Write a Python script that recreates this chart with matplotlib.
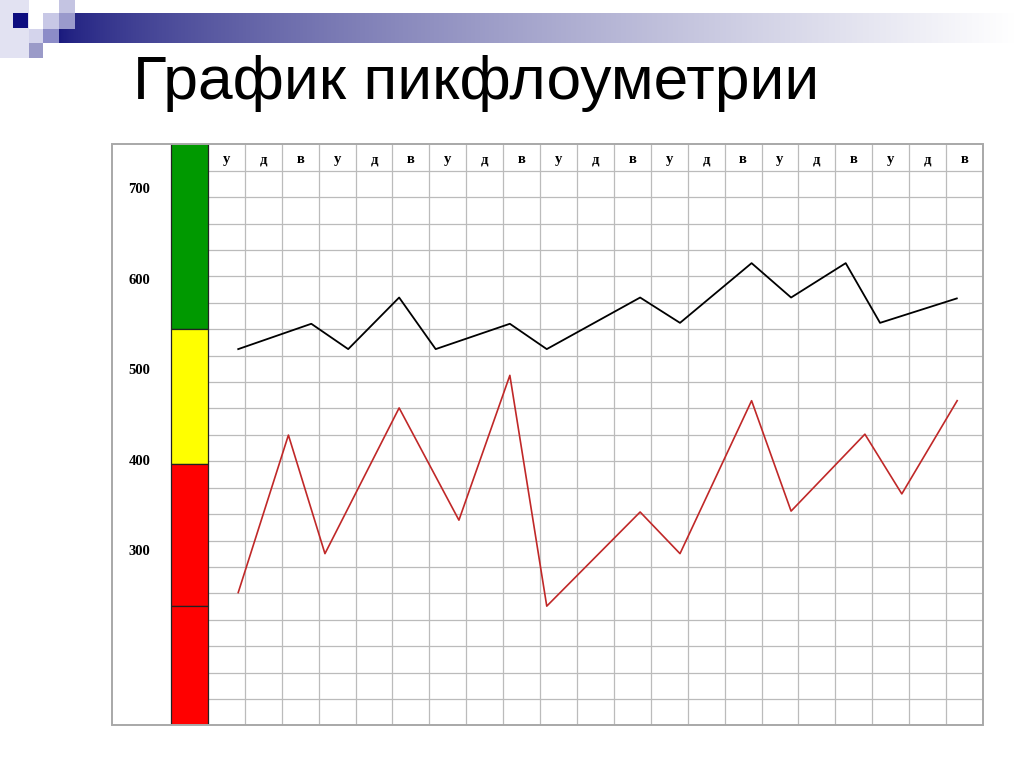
import matplotlib
matplotlib.use('Agg')
import matplotlib.pyplot as plt
import numpy as np
from matplotlib.patches import Rectangle
from matplotlib.colors import to_rgb

# column headers: morning / day / evening for 7 days
day_labels = ['у', 'д', 'в', 'у', 'д', 'в', 'у', 'д', 'в', 'у', 'д', 'в',
              'у', 'д', 'в', 'у', 'д', 'в', 'у', 'д', 'в']
scale_labels = [700, 600, 500, 400, 300]

# zone limits on the left bar (l/min)
zone_bounds = [546, 397, 240]
zone_colors = ['#009900', '#ffff00', '#ff0000', '#ff0000']

# readings, x = column position
black_x = [0.32, 2.30, 3.30, 4.68, 5.67, 7.68, 8.68, 11.21, 12.29, 14.23, 15.30, 16.78, 17.71, 19.79]
black_v = [524, 552, 524, 581, 524, 552, 524, 581, 553, 619, 581, 619, 553, 580]
red_x = [0.32, 1.68, 2.67, 4.68, 6.30, 7.68, 8.68, 11.21, 12.29, 14.23, 15.30, 17.30, 18.30, 19.80]
red_v = [255, 429, 298, 459, 335, 495, 240, 344, 298, 467, 345, 430, 364, 467]

W, H = 1024, 767
fig = plt.figure(figsize=(W / 100, H / 100), dpi=100)

# slide background layer in pixel coordinates
bg = fig.add_axes([0, 0, 1, 1])
bg.set_xlim(0, W)
bg.set_ylim(H, 0)
bg.axis('off')

navy = np.array(to_rgb('#1a1a7e'))
t = np.linspace(0, 1, 400) ** 0.7
grad = navy[None, :] * (1 - t[:, None]) + np.ones(3)[None, :] * t[:, None]
bg.imshow(grad[None, :, :], extent=(59, 1015, 43, 13), aspect='auto', zorder=1)

squares = [
    (0, 0, 29, 58, '#e2e2f2'),
    (13, 13, 15, 15, '#0d0d80'),
    (43, 13, 16, 16, '#c8c8e6'),
    (59, 0, 16, 13, '#c4c4e2'),
    (59, 13, 16, 16, '#9a9acc'),
    (29, 29, 14, 14, '#d4d4ec'),
    (43, 29, 16, 14, '#8c8cc8'),
    (29, 43, 14, 15, '#9a9ac8'),
]
for x0, y0, w, h, c in squares:
    bg.add_patch(Rectangle((x0, y0), w, h, color=c, lw=0, zorder=2))

bg.text(133, 99, 'График пикфлоуметрии', fontsize=44.8,
        family=['Liberation Sans', 'DejaVu Sans'], va='baseline', ha='left')

# chart table
left, right, top, bottom = 112, 983, 143.5, 725.4
ax = fig.add_axes([left / W, (H - bottom) / H, (right - left) / W, (bottom - top) / H])
ax.set_xlim(-3.10, 20.5)
ax.set_ylim(108.2, 751.2)
ax.axis('off')

grid_c = '#bbbbbb'
xt = ax.get_xaxis_transform()
n_cols = len(day_labels)
ax.vlines(np.arange(n_cols) + 0.5, 0, 1, transform=xt, color=grid_c, lw=0.9, zorder=1)
row_h = 26.41 / (bottom - top)
ax.hlines(np.arange(1, 22) * row_h, -0.5, n_cols - 0.5, transform=xt, color=grid_c, lw=0.9, zorder=1)
ax.add_patch(Rectangle((0, 0), 1, 1, transform=ax.transAxes, fill=False,
                       ec='#a8a8a8', lw=1.4, zorder=3, clip_on=False))

for i, lab in enumerate(day_labels):
    ax.text(i, 0.966, lab, transform=xt, ha='center', va='baseline',
            fontsize=10.5, fontweight='bold', family='Liberation Serif')

# zone bar
ylo, yhi = ax.get_ylim()
edges = [yhi] + zone_bounds + [ylo]
for k in range(len(edges) - 1):
    ax.bar(-1.0, edges[k] - edges[k + 1], bottom=edges[k + 1], width=1.0,
           color=zone_colors[k], edgecolor='#222222', lw=0.9, zorder=2)

for v in scale_labels:
    ax.text(-2.36, v, str(v), ha='center', va='center', fontsize=10.5,
            fontweight='bold', family='Liberation Serif')

ax.plot(black_x, black_v, color='black', lw=1.3, zorder=4)
ax.plot(red_x, red_v, color='#c02828', lw=1.2, zorder=4)

fig.savefig('out.png', dpi=100)
